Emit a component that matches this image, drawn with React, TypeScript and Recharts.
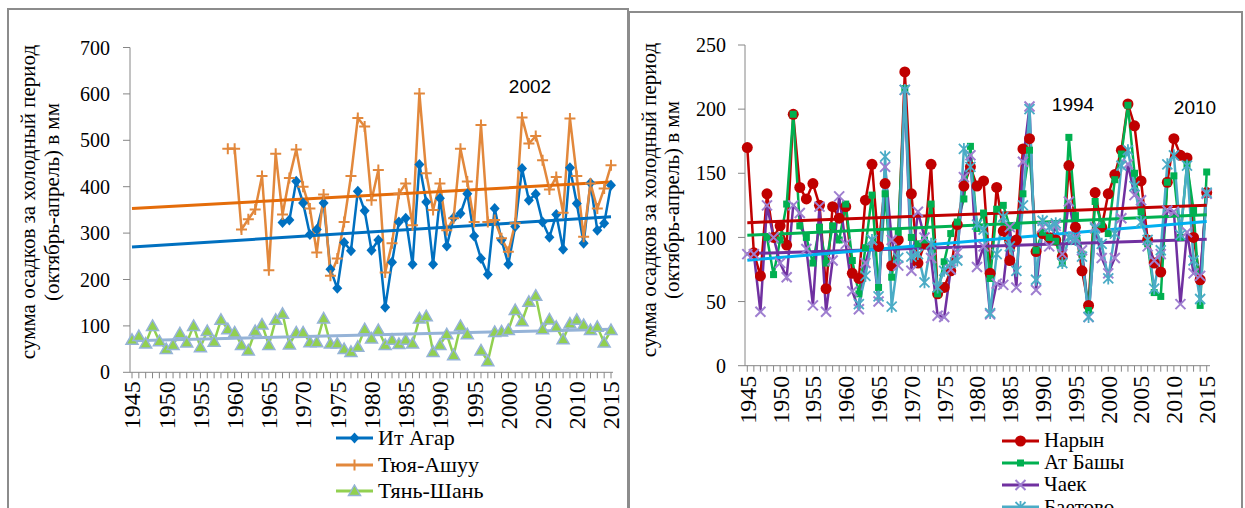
import React from "react";
import { Line, LineChart, XAxis, YAxis } from "recharts";

const years = [
  1945, 1946, 1947, 1948, 1949, 1950, 1951, 1952, 1953, 1954, 1955, 1956, 1957, 1958, 1959, 1960,
  1961, 1962, 1963, 1964, 1965, 1966, 1967, 1968, 1969, 1970, 1971, 1972, 1973, 1974, 1975, 1976,
  1977, 1978, 1979, 1980, 1981, 1982, 1983, 1984, 1985, 1986, 1987, 1988, 1989, 1990, 1991, 1992,
  1993, 1994, 1995, 1996, 1997, 1998, 1999, 2000, 2001, 2002, 2003, 2004, 2005, 2006, 2007, 2008,
  2009, 2010, 2011, 2012, 2013, 2014, 2015,
];
const yearLabels = [1945, 1950, 1955, 1960, 1965, 1970, 1975, 1980, 1985, 1990, 1995, 2000, 2005, 2010, 2015];

const N = null;

// left panel
const itAgar = [
  N, N, N, N, N, N, N, N, N, N, N, N, N, N, N, N, N, N, N, N, N, N,
  323, 328, 412, 365, 297, 308, 365, 222, 181, 280,
  262, 390, 348, 263, 285, 140, 237, 324, 332, 233,
  448, 367, 233, 375, 272, 333, 342, 385, 294, 245,
  211, 353, 285, 233, 314, 439, 371, 384, 324, 291,
  340, 265, 441, 364, 278, 408, 306, 321, 403,
];
const tyuyaAshuu = [
  N, N, N, N, N, N, N, N, N, N, N, N, N, N,
  482, 482, 308, 330, 351, 423, 220, 471, 340, 419,
  480, 400, 353, 258, 383, 208, 245, 324, 423, 548,
  530, 371, 436, 215, 278, 385, 407, 317, 601, 429,
  350, 407, 306, 332, 482, 411, 324, 533, 324, 328,
  289, 260, 321, 549, 493, 509, 457, 394, 421, 344,
  547, 423, 292, 407, 353, 396, 446,
];
const tianShan = [
  70, 78, 62, 100, 67, 50, 59, 84, 64, 100,
  54, 89, 66, 113, 93, 86, 59, 47, 89, 103,
  59, 113, 126, 60, 86, 86, 65, 65, 116, 62,
  62, 50, 44, 55, 93, 73, 91, 59, 70, 61,
  70, 62, 116, 121, 44, 59, 82, 37, 100, 82,
  N, 47, 24, 87, 88, 91, 134, 110, 152, 165,
  93, 114, 98, 71, 105, 113, 102, 91, 98, 64,
  91,
];
// trend lines: value at 1945 and at 2015
const trendYears = [1945, 2015];
const itAgarTrend = [270, 335];
const tyuyaAshuuTrend = [353, 410];
const tianShanTrend = [68, 93];
const leftTicks = [0, 100, 200, 300, 400, 500, 600, 700];

// right panel
const naryn = [
  170, 88, 70, 134, 100, 109, 94, 196, 139, 130,
  142, 125, 60, 124, 115, 124, 72, 68, 129, 157,
  93, 142, 78, 98, 229, 134, 80, 95, 157, 56,
  61, 74, 110, 140, 155, 140, 144, 72, 139, 105,
  82, 98, 169, 177, 89, 103, 100, 98, 85, 156,
  108, 74, 47, 135, 108, 134, 149, 168, 204, 187,
  144, 98, 80, 73, 143, 177, 164, 162, 100, 67,
  135,
];
const atBashy = [
  N, N, N, 100, 71, 98, 126, 196, 109, 100,
  80, 108, 80, 109, 98, 126, 82, 56, 92, 133,
  61, 134, 69, 104, 216, 100, 95, 98, 126, 56,
  81, 103, 112, 130, 171, 107, 119, 68, 122, 125,
  108, 109, 134, 168, 90, 104, 100, 97, 80, 178,
  117, 87, 43, 128, 110, 103, 145, 165, 203, 150,
  120, 95, 57, 54, 143, 148, 100, 157, 121, 47,
  151,
];
const chayek = [
  87, 87, 42, 125, 100, 80, 69, 125, 119, 91,
  47, 124, 42, 82, 132, 95, 58, 44, 80, 98,
  50, 155, 98, 78, 215, 74, 120, 100, 84, 39,
  38, 75, 88, 147, 164, 77, 93, 40, 64, 63,
  108, 61, 159, 202, 59, 108, 93, 109, 87, 128,
  100, 90, 38, 108, 84, 72, 84, 115, 157, 133,
  129, 93, 82, 87, 121, 120, 48, 104, 72, 70,
  134,
];
const baetovo = [
  N, N, N, N, N, N, N, N, N, N, N, N, N, N, N, N, N,
  48, 70, 98,
  54, 163, 46, 84, 215, 85, 87, 65, 95, 61,
  74, 80, 82, 169, 155, 110, 106, 41, 87, 116,
  93, 74, 125, 200, 67, 113, 108, 111, 80, 100,
  98, 85, 38, 107, 95, 68, 103, 156, 168, 140,
  112, 98, 60, 90, 157, 164, 102, 156, 82, 52,
  135,
];
const narynTrend = [111.5, 125];
const atBashyTrend = [101.6, 117.7];
const chayekTrend = [87.4, 98.5];
const baetovoTrend = [82.2, 112.5];
const rightTicks = [0, 50, 100, 150, 200, 250];

const SERIF = '"Liberation Serif", "Times New Roman", serif';
const SANS = '"Liberation Sans", Arial, sans-serif';
const AXIS = "#868686";
const FRAME = "#8c8c8c";

type Kind = "diamond" | "plus" | "triangle" | "circle" | "square" | "cross" | "star";

function Marker({ kind, cx, cy, color }: { kind: Kind; cx: number; cy: number; color: string }) {
  switch (kind) {
    case "diamond":
      return <path d={`M${cx},${cy - 5.5}L${cx + 5},${cy}L${cx},${cy + 5.5}L${cx - 5},${cy}Z`} fill={color} />;
    case "plus":
      return <path d={`M${cx - 5.5},${cy}H${cx + 5.5}M${cx},${cy - 5.5}V${cy + 5.5}`} stroke={color} strokeWidth={2} />;
    case "triangle":
      return (
        <path
          d={`M${cx},${cy - 6}L${cx + 6},${cy + 4.5}L${cx - 6},${cy + 4.5}Z`}
          fill="#92D050"
          stroke="#95B3D7"
          strokeWidth={1.5}
        />
      );
    case "circle":
      return <circle cx={cx} cy={cy} r={5.5} fill={color} />;
    case "square":
      return <rect x={cx - 3.5} y={cy - 3.5} width={7} height={7} fill={color} />;
    case "cross":
      return (
        <path
          d={`M${cx - 5},${cy - 5}L${cx + 5},${cy + 5}M${cx - 5},${cy + 5}L${cx + 5},${cy - 5}`}
          stroke={color}
          strokeWidth={2}
        />
      );
    case "star":
      return (
        <path
          d={`M${cx - 5},${cy - 5}L${cx + 5},${cy + 5}M${cx - 5},${cy + 5}L${cx + 5},${cy - 5}M${cx},${cy - 6}V${cy + 6}`}
          stroke={color}
          strokeWidth={1.8}
        />
      );
  }
}

function dotFor(kind: Kind, color: string) {
  return (p: any) => {
    const key = `${kind}-${p.index}`;
    if (p.value == null || p.cx == null || p.cy == null || Number.isNaN(p.cy)) return <g key={key} />;
    return (
      <g key={key}>
        <Marker kind={kind} cx={p.cx} cy={p.cy} color={color} />
      </g>
    );
  };
}

function YearTick({ x, y, payload, offset }: any) {
  const show = yearLabels.includes(payload.value);
  if (!show) return <g />;
  return (
    <text
      x={0}
      y={0}
      dy="0.35em"
      transform={`translate(${x},${y + offset}) rotate(-90)`}
      textAnchor="end"
      fontFamily={SERIF}
      fontSize={24}
      fill="#000"
    >
      {payload.value}
    </text>
  );
}

function trendData(values: number[]) {
  return trendYears.map((year, i) => ({ year, v: values[i] }));
}

interface LegendRowProps {
  kind: Kind;
  color: string;
  label: string;
  top: number;
  left: number;
  rowHeight: number;
  fontSize: number;
}

function LegendRow({ kind, color, label, top, left, rowHeight, fontSize }: LegendRowProps) {
  return (
    <div style={{ position: "absolute", left, top, height: rowHeight, display: "flex", alignItems: "center" }}>
      <svg width={40} height={14} style={{ display: "block" }}>
        <line x1={0} y1={7} x2={37} y2={7} stroke={color} strokeWidth={3} />
        <Marker kind={kind} cx={18.5} cy={7} color={kind === "cross" ? "#9F7FD0" : color} />
      </svg>
      <span style={{ fontFamily: SERIF, fontSize, color: "#000", lineHeight: `${rowHeight}px`, marginLeft: 2 }}>
        {label}
      </span>
    </div>
  );
}

function YTitle({ x1, x2, cy }: { x1: number; x2: number; cy: number }) {
  const style = { fontFamily: SERIF, fontSize: 21, fill: "#000" };
  return (
    <>
      <text transform={`translate(${x1},${cy}) rotate(-90)`} textAnchor="middle" dy="0.35em" {...style}>
        сумма осадков за холодный период
      </text>
      <text transform={`translate(${x2},${cy}) rotate(-90)`} textAnchor="middle" dy="0.35em" {...style}>
        (октябрь-апрель) в мм
      </text>
    </>
  );
}

export default function App() {
  const leftData = years.map((year, i) => ({
    year,
    itAgar: itAgar[i],
    tyuyaAshuu: tyuyaAshuu[i],
    tianShan: tianShan[i],
  }));
  const rightData = years.map((year, i) => ({
    year,
    naryn: naryn[i],
    atBashy: atBashy[i],
    chayek: chayek[i],
    baetovo: baetovo[i],
  }));

  const yTick = { fontFamily: SERIF, fontSize: 20, fill: "#000" };

  return (
    <div style={{ position: "absolute", left: 0, top: 0, width: 1245, height: 508, overflow: "hidden", background: "#fff" }}>
      {/* frames */}
      <div style={{ position: "absolute", left: 7, top: 8, width: 618, height: 520, border: `2px solid ${FRAME}` }} />
      <div style={{ position: "absolute", left: 628, top: 11, width: 611, height: 520, border: `2px solid ${FRAME}` }} />

      {/* left chart */}
      <div style={{ position: "absolute", left: 0, top: 0 }}>
        <LineChart width={628} height={508} data={leftData} margin={{ top: 47.5, right: 15, left: 0, bottom: 0 }}>
          <XAxis
            dataKey="year"
            type="number"
            domain={[1945, 2015]}
            ticks={years}
            interval={0}
            padding={{ left: 2, right: 2 }}
            height={135.7}
            stroke={AXIS}
            tickSize={6}
            tickMargin={2}
            tick={<YearTick offset={1} />}
          />
          <YAxis
            type="number"
            domain={[0, 700]}
            ticks={leftTicks}
            width={130}
            stroke={AXIS}
            tickSize={7}
            tickMargin={13}
            tick={yTick}
          />
          <Line dataKey="itAgar" stroke="#0070C0" strokeWidth={2.5} dot={dotFor("diamond", "#0070C0")} isAnimationActive={false} />
          <Line dataKey="tyuyaAshuu" stroke="#E2883C" strokeWidth={2.5} dot={dotFor("plus", "#E2883C")} isAnimationActive={false} />
          <Line dataKey="tianShan" stroke="#92D050" strokeWidth={2.5} dot={dotFor("triangle", "#92D050")} isAnimationActive={false} />
          <Line data={trendData(tyuyaAshuuTrend)} dataKey="v" stroke="#E46C0A" strokeWidth={3} dot={false} isAnimationActive={false} />
          <Line data={trendData(itAgarTrend)} dataKey="v" stroke="#0070C0" strokeWidth={3} dot={false} isAnimationActive={false} />
          <Line data={trendData(tianShanTrend)} dataKey="v" stroke="#95B3D7" strokeWidth={3} dot={false} isAnimationActive={false} />
        </LineChart>
      </div>

      {/* right chart */}
      <div style={{ position: "absolute", left: 630, top: 0 }}>
        <LineChart width={615} height={508} data={rightData} margin={{ top: 45, right: 35, left: 0, bottom: 0 }}>
          <XAxis
            dataKey="year"
            type="number"
            domain={[1945, 2015]}
            ticks={years}
            interval={0}
            padding={{ left: 2.3, right: 3.3 }}
            height={142.3}
            stroke={AXIS}
            tickSize={6}
            tickMargin={2}
            tick={<YearTick offset={2} />}
          />
          <YAxis
            type="number"
            domain={[0, 250]}
            ticks={rightTicks}
            width={115}
            stroke={AXIS}
            tickSize={7}
            tickMargin={12}
            tick={yTick}
          />
          <Line dataKey="naryn" stroke="#C00000" strokeWidth={2.5} dot={dotFor("circle", "#C00000")} isAnimationActive={false} />
          <Line dataKey="atBashy" stroke="#00B050" strokeWidth={2.5} dot={dotFor("square", "#00B050")} isAnimationActive={false} />
          <Line dataKey="chayek" stroke="#7030A0" strokeWidth={2.5} dot={dotFor("cross", "#9F7FD0")} isAnimationActive={false} />
          <Line dataKey="baetovo" stroke="#4BACC6" strokeWidth={2.5} dot={dotFor("star", "#4BACC6")} isAnimationActive={false} />
          <Line data={trendData(narynTrend)} dataKey="v" stroke="#C00000" strokeWidth={3} dot={false} isAnimationActive={false} />
          <Line data={trendData(atBashyTrend)} dataKey="v" stroke="#00B050" strokeWidth={3} dot={false} isAnimationActive={false} />
          <Line data={trendData(chayekTrend)} dataKey="v" stroke="#7030A0" strokeWidth={3} dot={false} isAnimationActive={false} />
          <Line data={trendData(baetovoTrend)} dataKey="v" stroke="#00B0F0" strokeWidth={3} dot={false} isAnimationActive={false} />
        </LineChart>
      </div>

      {/* axis titles and notes */}
      <svg width={1245} height={508} style={{ position: "absolute", left: 0, top: 0, pointerEvents: "none" }}>
        <YTitle x1={28} x2={52} cy={202} />
        <YTitle x1={649} x2={672} cy={200} />
        <text x={530} y={86} dy="0.35em" textAnchor="middle" fontFamily={SANS} fontSize={19} fill="#000">2002</text>
        <text x={1073} y={104} dy="0.35em" textAnchor="middle" fontFamily={SANS} fontSize={19} fill="#000">1994</text>
        <text x={1195} y={107} dy="0.35em" textAnchor="middle" fontFamily={SANS} fontSize={19} fill="#000">2010</text>
      </svg>

      {/* legends */}
      <LegendRow kind="diamond" color="#0070C0" label="Ит Агар" left={336} top={426} rowHeight={24} fontSize={22} />
      <LegendRow kind="plus" color="#E2883C" label="Тюя-Ашуу" left={336} top={453} rowHeight={24} fontSize={22} />
      <LegendRow kind="triangle" color="#92D050" label="Тянь-Шань" left={336} top={479} rowHeight={24} fontSize={22} />
      <LegendRow kind="circle" color="#C00000" label="Нарын" left={1002} top={430} rowHeight={21} fontSize={21} />
      <LegendRow kind="square" color="#00B050" label="Ат Башы" left={1002} top={452} rowHeight={21} fontSize={21} />
      <LegendRow kind="cross" color="#7030A0" label="Чаек" left={1002} top={474} rowHeight={21} fontSize={21} />
      <LegendRow kind="star" color="#4BACC6" label="Баетово" left={1002} top={496.5} rowHeight={21} fontSize={21} />
    </div>
  );
}
